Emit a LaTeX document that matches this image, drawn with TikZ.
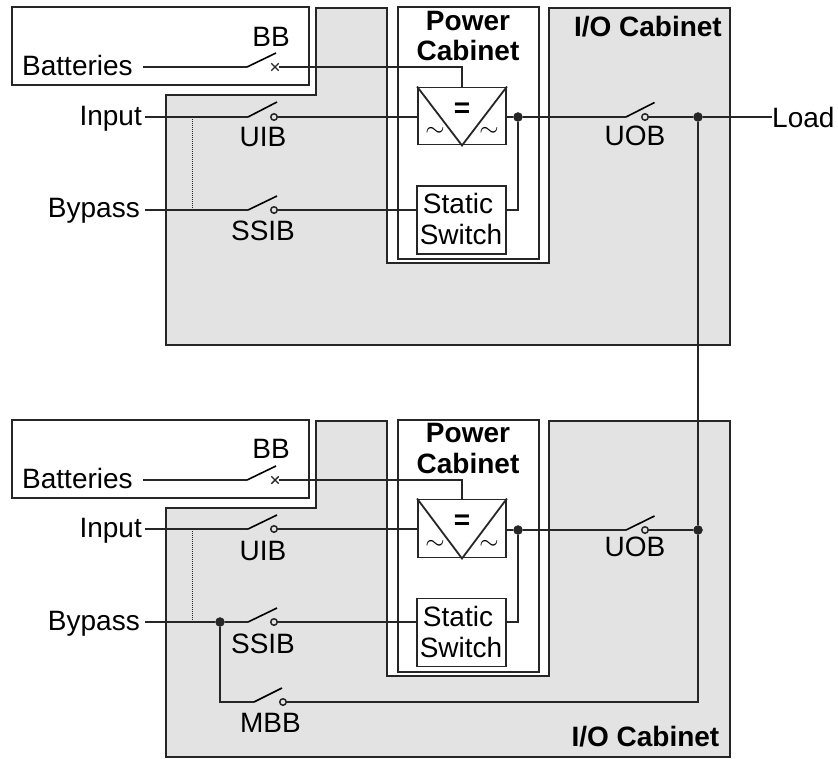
\documentclass[tikz,border=0pt]{standalone}
\usepackage{fontspec}
\setmainfont{Liberation Sans}
\usetikzlibrary{shapes.misc}
\definecolor{ink}{HTML}{262626}
\definecolor{cabgrey}{HTML}{E3E3E3}
\tikzset{
  lbl/.style={inner sep=0pt,text height=20pt,text depth=0pt,font=\fontsize{28}{30}\selectfont,text=black},
  boldlbl/.style={lbl,font=\fontsize{28}{30}\selectfont\bfseries},
  aclbl/.style={inner sep=0pt,font=\fontsize{23}{23}\selectfont},
  cabinet/.style={draw=ink,line width=1.9pt},
  wire/.style={draw=ink,line width=1.8pt},
  blade/.style={draw=black,line width=1.6pt},
  unit/.style={draw=ink,line width=1.9pt,fill=white,inner sep=0pt},
  dot/.style={circle,fill=ink,draw=ink,inner sep=0pt,minimum size=9pt},
  contact/.style={circle,draw=ink,line width=1.5pt,inner sep=0pt,minimum size=6.5pt},
  trip/.style={cross out,draw=ink,line width=1.4pt,inner sep=0pt,minimum size=6pt},
  tapline/.style={densely dotted,draw=ink,line width=1pt}
}
\begin{document}
\begin{tikzpicture}[x=1pt,y=-1pt]
      \useasboundingbox (0,0) rectangle (838,758);

      \path[cabinet,fill=cabgrey] (316,8) -- (387,8) -- (387,263) -- (549,263) -- (549,8) -- (730,8)
        -- (730,345) -- (166,345) -- (166,95) -- (316,95) -- cycle;
      \path[cabinet,fill=white] (398,7) rectangle (539,259);
      \path[cabinet,fill=white] (12,7) rectangle (309,85);

      \node(ConvA)   [unit,minimum width=88pt,minimum height=57pt] at (462,116) {};
      \node(StaticA) [unit,minimum width=89pt,minimum height=68pt] at (461.5,220) {};

      \node(BatA)  [lbl,anchor=west]  at (22,65.5)   {Batteries};
      \node(BBA)   [lbl]              at (271,36.5)  {BB};
      \node(InA)   [lbl,anchor=east]  at (142,115.5) {Input};
      \node(UIBA)  [lbl]              at (263,136.5) {UIB};
      \node(ByA)   [lbl,anchor=east]  at (140,207)   {Bypass};
      \node(SSIBA) [lbl]              at (263,230)   {SSIB};
      \node(UOBA)  [lbl]              at (635,135)   {UOB};
      \node(LoadA) [lbl,anchor=west]  at (772,117)   {Load};
      \node(PowA)  [boldlbl]          at (468,20)    {Power};
      \node(CabA)  [boldlbl]          at (468,50.5)  {Cabinet};
      \node(IOA)   [boldlbl,anchor=east] at (722,26.5) {I/O Cabinet};
      \node(StA)   [lbl]              at (458,203)   {Static};
      \node(SwA)   [lbl]              at (461,234.5) {Switch};
      \node(EqA)   [boldlbl]          at (462,107)   {=};
      \node(AcLA)  [aclbl]            at (435,132)   {$\sim$};
      \node(AcRA)  [aclbl]            at (489,132)   {$\sim$};

      \node(XBA)   [trip]    at (275,67)  {};
      \node(CUIA)  [contact] at (274,117) {};
      \node(CSSA)  [contact] at (274,210) {};
      \node(CUOA)  [contact] at (645,117) {};
      \node(DotCA) [dot]     at (518,117) {};
      \node(DotLA) [dot]     at (698,117) {};

      \coordinate(FBA)  at (143,67);
      \coordinate(HBA)  at (247,67);
      \coordinate(TBA)  at (276,53);
      \coordinate(FUIA) at (145,117);
      \coordinate(HUIA) at (248,117);
      \coordinate(TUIA) at (277,102);
      \coordinate(FSSA) at (145,210);
      \coordinate(HSSA) at (248,210);
      \coordinate(TSSA) at (277,196);
      \coordinate(HUOA) at (626,117);
      \coordinate(TUOA) at (654.5,102.5);
      \coordinate(TapIA) at (192,117);
      \coordinate(TapBA) at (192,210);
      \coordinate(TurnA) at (462,67);

      \draw[wire] (ConvA.north west) -- (ConvA.south) -- (ConvA.north east);
      \draw[wire] (FBA) -- (HBA);
      \draw[wire] (XBA) -- (TurnA) -- (ConvA.north);
      \draw[wire] (FUIA) -- (HUIA) (CUIA) -- (CUIA -| ConvA.west);
      \draw[wire] (FSSA) -- (HSSA) (CSSA) -- (CSSA -| StaticA.west);
      \draw[wire] (DotCA -| ConvA.east) -- (DotCA) -- (HUOA) (CUOA) -- (DotLA) -- (DotLA -| LoadA.west);
      \draw[wire] (DotCA) -- (DotCA |- CSSA) -- (CSSA -| StaticA.east);
      \draw[blade] (HBA) -- (TBA) (HUIA) -- (TUIA) (HSSA) -- (TSSA) (HUOA) -- (TUOA);
      \draw[tapline] (TapIA) -- (TapBA);

      \path[cabinet,fill=cabgrey] (316,421) -- (387,421) -- (387,676) -- (549,676) -- (549,421) -- (730,421)
        -- (730,757) -- (166,757) -- (166,508) -- (316,508) -- cycle;
      \path[cabinet,fill=white] (398,420) rectangle (539,672);
      \path[cabinet,fill=white] (12,420) rectangle (309,498);

      \node(ConvB)   [unit,minimum width=88pt,minimum height=58pt] at (462,528.5) {};
      \node(StaticB) [unit,minimum width=89pt,minimum height=68pt] at (461.5,632.5) {};

      \node(BatB)  [lbl,anchor=west]  at (22,478)    {Batteries};
      \node(BBB)   [lbl]              at (271,448.5) {BB};
      \node(InB)   [lbl,anchor=east]  at (142,527)   {Input};
      \node(UIBB)  [lbl]              at (263,550)   {UIB};
      \node(ByB)   [lbl,anchor=east]  at (140,620)   {Bypass};
      \node(SSIBB) [lbl]              at (263,643)   {SSIB};
      \node(MBBB)  [lbl]              at (270.5,722) {MBB};
      \node(UOBB)  [lbl]              at (635,546.5) {UOB};
      \node(PowB)  [boldlbl]          at (468,432.5) {Power};
      \node(CabB)  [boldlbl]          at (468,463)   {Cabinet};
      \node(IOB)   [boldlbl,anchor=east] at (719.5,736) {I/O Cabinet};
      \node(StB)   [lbl]              at (458,616)   {Static};
      \node(SwB)   [lbl]              at (461,647)   {Switch};
      \node(EqB)   [boldlbl]          at (462,519.5) {=};
      \node(AcLB)  [aclbl]            at (435,544.5) {$\sim$};
      \node(AcRB)  [aclbl]            at (489,544.5) {$\sim$};

      \node(XBB)   [trip]    at (275,480) {};
      \node(CUIB)  [contact] at (274,529) {};
      \node(CSSB)  [contact] at (274,622) {};
      \node(CUOB)  [contact] at (645,530) {};
      \node(CMBB)  [contact] at (283,702) {};
      \node(DotCB) [dot]     at (518,530) {};
      \node(DotLB) [dot]     at (698,530) {};
      \node(DotBB) [dot]     at (220,622) {};

      \coordinate(FBB)  at (143,480);
      \coordinate(HBB)  at (247,480);
      \coordinate(TBB)  at (276,466);
      \coordinate(FUIB) at (145,529);
      \coordinate(HUIB) at (248,529);
      \coordinate(TUIB) at (277,515);
      \coordinate(FSSB) at (145,622);
      \coordinate(HSSB) at (248,622);
      \coordinate(TSSB) at (277,608);
      \coordinate(HUOB) at (626,530);
      \coordinate(TUOB) at (654.5,516);
      \coordinate(HMBB) at (254,702);
      \coordinate(TMBB) at (282,688);
      \coordinate(TapIB) at (192,529);
      \coordinate(TapBB) at (192,622);
      \coordinate(TurnB) at (462,480);
      \coordinate(TurnM) at (698,702);

      \draw[wire] (ConvB.north west) -- (ConvB.south) -- (ConvB.north east);
      \draw[wire] (FBB) -- (HBB);
      \draw[wire] (XBB) -- (TurnB) -- (ConvB.north);
      \draw[wire] (FUIB) -- (HUIB) (CUIB) -- (CUIB -| ConvB.west);
      \draw[wire] (FSSB) -- (DotBB) -- (HSSB) (CSSB) -- (CSSB -| StaticB.west);
      \draw[wire] (DotCB -| ConvB.east) -- (DotCB) -- (HUOB) (CUOB) -- (DotLB);
      \draw[wire] (DotCB) -- (DotCB |- CSSB) -- (CSSB -| StaticB.east);
      \draw[wire] (DotBB) |- (HMBB) (CMBB) -- (TurnM) -- (DotLB);
      \draw[wire] (DotLA) -- (DotLB);
      \draw[blade] (HBB) -- (TBB) (HUIB) -- (TUIB) (HSSB) -- (TSSB) (HUOB) -- (TUOB) (HMBB) -- (TMBB);
      \draw[tapline] (TapIB) -- (TapBB);
    \end{tikzpicture}
\end{document}
